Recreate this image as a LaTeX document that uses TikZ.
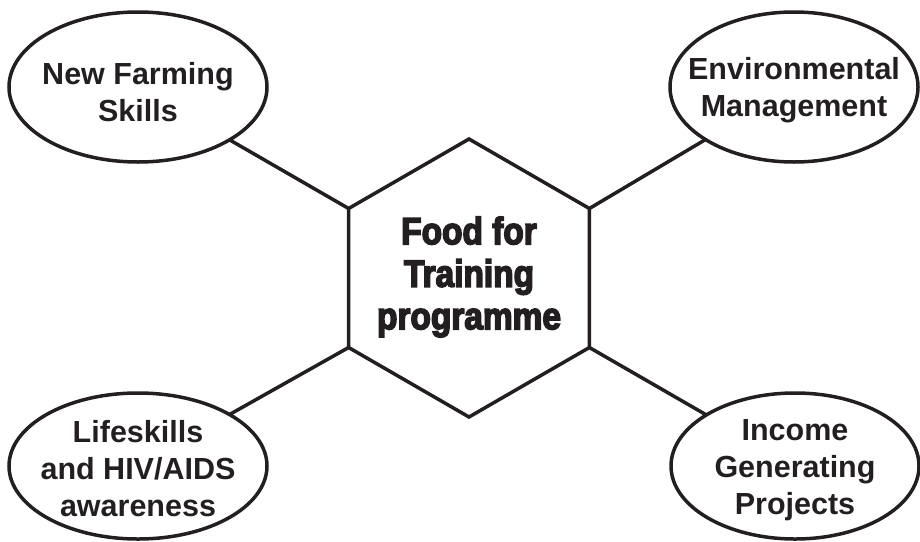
\documentclass[tikz,border=0pt]{standalone}
\usepackage{fontspec}
\setmainfont{Liberation Sans}
\newfontfamily\hexfont[FakeStretch=0.88,FakeBold=4]{Liberation Sans Bold}
\usetikzlibrary{shapes.geometric}
\definecolor{ink}{RGB}{35,31,32}
\tikzset{
  bub/.style={ellipse, draw=ink, line width=3.5pt, inner sep=0pt, outer sep=0pt,
    minimum height=150pt},
  bubtext/.style={align=center, text=ink, inner sep=0pt,
    font=\bfseries\fontsize{30.5}{37}\selectfont},
  hexa/.style={regular polygon, regular polygon sides=6, shape border rotate=30,
    draw=ink, line width=3.5pt, inner sep=0pt, outer sep=0pt, minimum size=278pt},
  hextext/.style={align=center, text=ink, inner sep=0pt,
    font=\hexfont\fontsize{38}{42.5}\selectfont},
  conn/.style={draw=ink, line width=3.5pt}
}
\begin{document}
\begin{tikzpicture}[x=1pt, y=-1pt]
\useasboundingbox (0,0) rectangle (920,541);
\node[hexa] (hex) at (469,278) {};
\node[hextext] (hext) at (469,277) {Food for\\Training\\programme};
\node[bub, minimum width=258pt] (tl) at (138,87) {};
\node[bub, minimum width=248pt] (tr) at (794,87) {};
\node[bub, minimum width=258pt, minimum height=146pt] (bl) at (138,466) {};
\node[bub, minimum width=248pt, minimum height=146pt] (br) at (795,466) {};
\node[bubtext] (tlt) at (138,92) {New Farming\\Skills};
\node[bubtext] (trt) at (794,90) {Environmental\\Management};
\node[bubtext] (blt) at (138,469) {Lifeskills\\and HIV/AIDS\\awareness};
\node[bubtext] (brt) at (795,470) {Income\\Generating\\Projects};
\draw[conn] (hex.150) -- (tl);
\draw[conn] (hex.30) -- (tr);
\draw[conn] (hex.210) -- (bl);
\draw[conn] (hex.330) -- (br);
\end{tikzpicture}
\end{document}
